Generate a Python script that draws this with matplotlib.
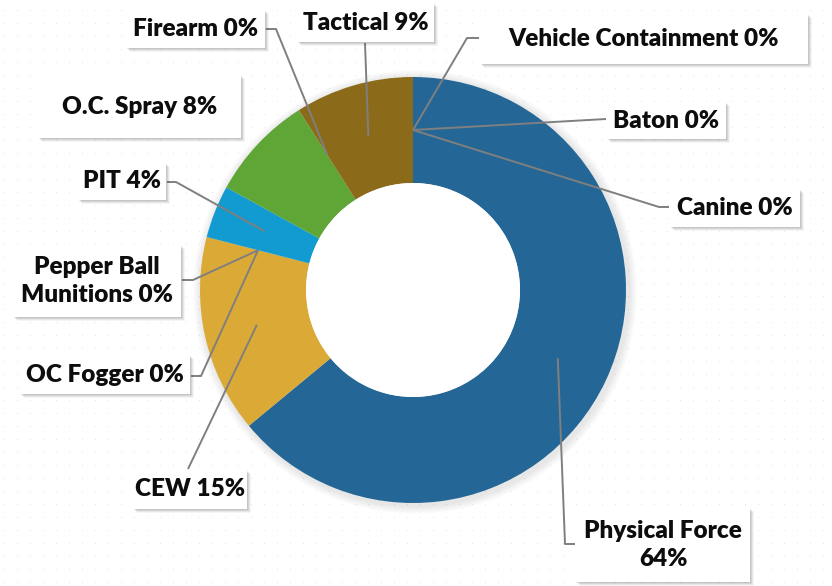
import numpy as np
import matplotlib.pyplot as plt
from matplotlib.patches import Rectangle

# data, clockwise from 12 o'clock
names = ['Vehicle Containment', 'Baton', 'Canine', 'Physical Force', 'CEW',
         'OC Fogger', 'Pepper Ball\nMunitions', 'PIT', 'O.C. Spray', 'Firearm', 'Tactical']
values = [0, 0, 0, 64, 15, 0, 0, 4, 8, 0, 9]
colors = ['#246796', '#246796', '#246796', '#246796', '#DBA936',
          '#DBA936', '#DBA936', '#129BD0', '#5FA636', '#8B6A1A', '#8B6A1A']

H = 586
cx, cy = 413, 290
R, w = 213, 106

# label layout in pixels: box (x0, y0, x1, y1), leader elbow points (or None)
boxes = {
    'Vehicle Containment': (480, 14, 808, 64),
    'Baton': (607, 102, 726, 139),
    'Canine': (670, 189, 800, 227),
    'Physical Force': (576, 508, 750, 582),
    'CEW': (133, 470, 247, 509),
    'OC Fogger': (20, 355, 190, 394),
    'Pepper Ball\nMunitions': (13, 245, 181, 317),
    'PIT': (78, 163, 166, 200),
    'O.C. Spray': (38, 75, 241, 138),
    'Firearm': (126, 10, 265, 48),
    'Tactical': (297, 3, 434, 42),
}
elbows = {
    'Vehicle Containment': [(479, 38), (467, 38)],
    'Baton': [(606, 119)],
    'Canine': [(669, 207), (659, 207)],
    'Physical Force': [(575, 544), (565, 544)],
    'CEW': [(188, 469)],
    'OC Fogger': [(191, 376), (201, 376)],
    'Pepper Ball\nMunitions': [(182, 280), (193, 280)],
    'PIT': [(167, 182), (176, 182)],
    'O.C. Spray': None,
    'Firearm': [(266, 29), (276, 29)],
    'Tactical': [(365, 43)],
}

fig = plt.figure(figsize=(8.32, 5.86), dpi=100)
ax = fig.add_axes([0, 0, 1, 1])
ax.set_facecolor('white')

# faint dotted background
gx, gy = np.meshgrid(np.arange(4, 832, 13), np.arange(4, 586, 13))
ax.scatter(gx.ravel(), gy.ravel(), s=0.6, color='#e4e4e4', zorder=0, linewidths=0)

# soft shadow around donut
for k in range(8):
    ax.add_patch(plt.Circle((cx + 2, H - cy - 2), R + 9 - k, color='#000000',
                            alpha=0.012, zorder=1, lw=0))

ax.pie(values, colors=colors, startangle=90, counterclock=False,
       center=(cx, H - cy), radius=R,
       wedgeprops=dict(width=w, edgecolor='none', zorder=2))
ax.add_patch(plt.Circle((cx, H - cy), R - w, color='white', zorder=2, lw=0))

# leader anchor points from the slice angles
total = sum(values)
cum = np.cumsum([0] + values[:-1])
rmid = R - w / 2
for i, name in enumerate(names):
    mid = (cum[i] + values[i] / 2) / total * 2 * np.pi
    ax_, ay_ = cx + rmid * np.sin(mid), cy - rmid * np.cos(mid)
    x0, y0, x1, y1 = boxes[name]
    # soft drop shadow
    for k, a in enumerate([0.10, 0.10, 0.08, 0.05]):
        ax.add_patch(Rectangle((x0 + 1 + k, H - y1 - 1 - k), x1 - x0, y1 - y0,
                               facecolor='#404040', edgecolor='none', alpha=a, zorder=3.5))
    ax.add_patch(Rectangle((x0, H - y1), x1 - x0, y1 - y0, facecolor='white',
                           edgecolor='none', zorder=4))
    txt = name + ' ' + str(values[i]) + '%'
    if name == 'Physical Force':
        txt = 'Physical Force\n64%'
    ax.text((x0 + x1) / 2, H - (y0 + y1) / 2, txt, ha='center', va='center',
            fontsize=17.5, fontweight='heavy', family=['Lato', 'DejaVu Sans'],
            linespacing=1.3, zorder=5, color='#0d0d0d')
    if elbows[name]:
        pts = elbows[name] + [(ax_, ay_)]
        ax.plot([p[0] for p in pts], [H - p[1] for p in pts], color='#7f7f7f',
                lw=1.4, zorder=3, solid_capstyle='butt')

ax.set_xlim(0, 832)
ax.set_ylim(0, H)
ax.set_aspect('auto')
ax.axis('off')
fig.savefig('out.png', dpi=100)
